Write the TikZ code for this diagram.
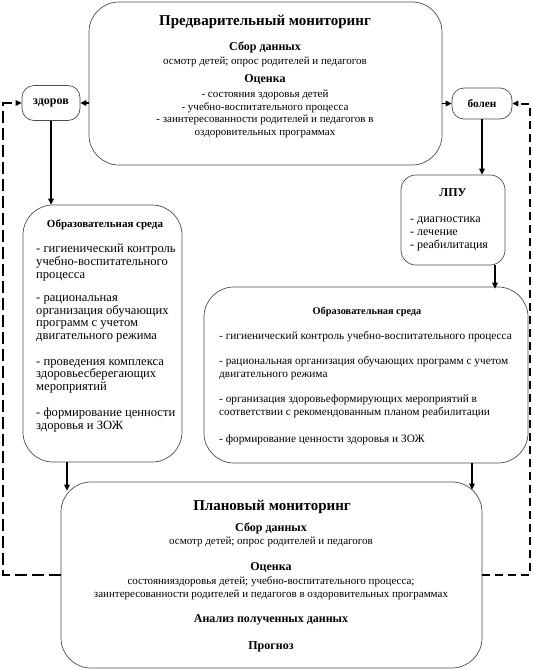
\documentclass[tikz,border=0pt]{standalone}
\usepackage{fontspec}
\setmainfont{Liberation Serif}
\usetikzlibrary{arrows.meta,calc}
\begin{document}
\begin{tikzpicture}[x=1pt,y=-1pt,
  box/.style={draw=black!70, line width=0.7pt, rounded corners=#1, inner sep=0pt},
  box/.default=28pt,
  arr/.style={line width=1.6pt, -{Triangle[length=6pt,width=5.5pt]}},
  dashL/.style={line width=2pt, dash pattern=on 12pt off 5pt, -{Triangle[length=6pt,width=5.5pt]}},
  dashR/.style={line width=2pt, dash pattern=on 8pt off 5pt, -{Triangle[length=6pt,width=5.5pt]}},
  body/.style={font=\fontsize{11}{12.7}\selectfont, inner sep=0pt, align=center},
  bodyl/.style={font=\fontsize{12.6}{12.6}\selectfont, inner sep=0pt, align=left, anchor=west},
  bodyr/.style={font=\fontsize{11.3}{13}\selectfont, inner sep=0pt, align=left, anchor=west},
  bodyp/.style={font=\fontsize{12}{13}\selectfont, inner sep=0pt, align=left, anchor=west},
  hd/.style={font=\bfseries\fontsize{12}{13}\selectfont, inner sep=0pt},
  bigt/.style={font=\bfseries\fontsize{15}{17}\selectfont, inner sep=0pt},
]
\useasboundingbox (0,0) rectangle (533,670);

% boxes
\node[box=30pt, minimum width=353pt, minimum height=163pt] (top) at (265.5,83.5) {};
\node[box=12pt, minimum width=58pt, minimum height=35pt] (zd) at (51,103) {};
\node[box=12pt, minimum width=60pt, minimum height=31pt] (bol) at (482,103.5) {};
\node[box=15pt, minimum width=104pt, minimum height=90pt] (lpu) at (453,220) {};
\node[box=30pt, minimum width=159pt, minimum height=257pt] (lb) at (102.5,333.5) {};
\node[box=30pt, minimum width=324pt, minimum height=176pt] (rb) at (366,375) {};
\node[box=30pt, minimum width=421pt, minimum height=186pt] (bot) at (271.5,575) {};

\coordinate (cl) at (3,0);
\coordinate (cr) at (530,0);

% top box text
\node[bigt] (t1) at (265,22) {Предварительный мониторинг};
\node[hd] (t2) at (265,47) {Сбор данных};
\node[body] (t3) at (265,62) {осмотр детей; опрос родителей и педагогов};
\node[hd] (t4) at (265,80) {Оценка};
\node[body] (t5) at (265,114) {- состояния здоровья детей\\- учебно-воспитательного процесса\\- заинтересованности родителей и педагогов в\\оздоровительных программах};

% small boxes text
\node[font=\bfseries\fontsize{12}{13}\selectfont, inner sep=0pt] (t6) at (zd) {здоров};
\node[font=\bfseries\fontsize{11.3}{13}\selectfont, inner sep=0pt] (t7) at (bol) {болен};

% LPU
\node[font=\bfseries\fontsize{12}{13}\selectfont, inner sep=0pt] (t8) at (453,193) {ЛПУ};
\node[bodyp] (t9) at (410,234) {- диагностика\\- лечение\\- реабилитация};

% left box
\node[font=\bfseries\fontsize{11}{12}\selectfont, inner sep=0pt] (t10) at (105,225) {Образовательная среда};
\node[bodyl] (t11) at (36,262.5) {- гигиенический контроль\\учебно-воспитательного\\процесса};
\node[bodyl] (t12) at (36,319) {- рациональная\\организация обучающих\\программ с учетом\\двигательного режима};
\node[bodyl] (t13) at (36,376) {- проведения комплекса\\здоровьесберегающих\\мероприятий};
\node[bodyl] (t14) at (36,420) {- формирование ценности\\здоровья и ЗОЖ};

% right box
\node[font=\bfseries\fontsize{10.3}{12}\selectfont, inner sep=0pt] (t15) at (367,312) {Образовательная среда};
\node[bodyr] (t16) at (219,337) {- гигиенический контроль учебно-воспитательного процесса};
\node[bodyr] (t17) at (219,368.5) {- рациональная организация обучающих программ с учетом\\двигательного режима};
\node[bodyr] (t18) at (219,406.5) {- организация здоровьеформирующих мероприятий в\\соответствии с рекомендованным планом реабилитации};
\node[bodyr] (t19) at (219,440) {- формирование ценности здоровья и ЗОЖ};

% bottom box
\node[bigt] (t20) at (272,507) {Плановый мониторинг};
\node[hd] (t21) at (271,528) {Сбор данных};
\node[body] (t22) at (271,542) {осмотр детей; опрос родителей и педагогов};
\node[hd] (t23) at (271,568) {Оценка};
\node[body] (t24) at (271,588.5) {состоянияздоровья детей; учебно-воспитательного процесса;\\заинтересованности родителей и педагогов в оздоровительных программах};
\node[hd] (t25) at (271,620) {Анализ полученных данных};
\node[hd] (t26) at (271,647) {Прогноз};

% connectors
\draw[arr] (zd.east -| top.west) -- (zd.east);
\draw[arr] (bol.west -| top.east) -- (bol.west);
\draw[arr] (zd.south) -- (zd.south |- lb.north);
\draw[arr] (bol.south) -- (bol.south |- lpu.north);
\draw[arr] ([xshift=42pt]lpu.south) -- ([xshift=42pt,yshift=-2pt]lpu.south |- rb.north);
\draw[arr] ([xshift=-35.5pt]lb.south) -- ([xshift=-35.5pt,yshift=-9pt]lb.south |- bot.north);
\draw[arr] ([xshift=106pt]rb.south) -- ([xshift=106pt,yshift=-8pt]rb.south |- bot.north);
\draw[dashL] (bot.west) -- (bot.west -| cl) -- (cl |- zd.west) -- (zd.west);
\draw[dashR] (bot.east) -- (bot.east -| cr) -- (cr |- bol.east) -- (bol.east);
\end{tikzpicture}
\end{document}
